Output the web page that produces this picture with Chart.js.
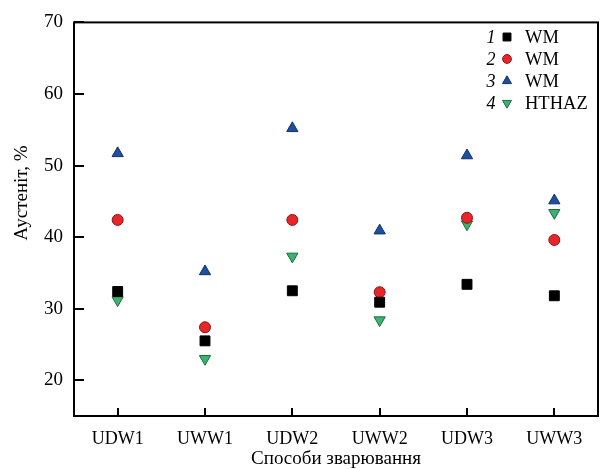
<!DOCTYPE html>
<html>
<head>
<meta charset="utf-8">
<script src="https://cdn.jsdelivr.net/npm/chart.js@4.4.1/dist/chart.umd.min.js"></script>
<style>
  html, body { margin: 0; padding: 0; background: #fff; }
  #wrap { width: 606px; height: 469px; }
</style>
</head>
<body>
<div id="wrap"><canvas id="austenite-chart" width="606" height="469"></canvas></div>
<script>
// Welding methods on the x axis
const categories = ['UDW1', 'UWW1', 'UDW2', 'UWW2', 'UDW3', 'UWW3'];

// Austenite content, %
const series1WM = [32.4, 25.5, 32.5, 30.9, 33.4, 31.8];
const series2WM = [42.4, 27.4, 42.4, 32.3, 42.7, 39.6];
const series3WM = [51.7, 35.2, 55.2, 40.9, 51.4, 45.1];
const series4HTHAZ = [31.2, 23.0, 37.3, 28.4, 41.8, 43.4];

const legendNumbers = ['1', '2', '3', '4'];
const legendLabels = ['WM', 'WM', 'WM', 'HTHAZ'];
const yTicks = [20, 30, 40, 50, 60, 70];
const yTitle = 'Аустеніт, %';

const SERIF = '"Liberation Serif", "Times New Roman", serif';

/**
 * Draws the boxed frame, the inward tick marks and the y title
 */
const frameTicks = {
  id: 'frameTicks',
  afterDatasetsDraw(chart) {
    const { ctx, chartArea: a, scales } = chart;
    ctx.save();
    ctx.strokeStyle = '#000';
    ctx.lineWidth = 2;
    ctx.strokeRect(a.left, a.top, a.right - a.left, a.bottom - a.top);
    ctx.beginPath();
    yTicks.forEach(v => {
      const y = Math.round(scales.y.getPixelForValue(v));
      ctx.moveTo(a.left, y);
      ctx.lineTo(a.left + 10, y);
    });
    categories.forEach((c, i) => {
      const x = Math.round(scales.x.getPixelForValue(i));
      ctx.moveTo(x, a.bottom);
      ctx.lineTo(x, a.bottom - 8);
    });
    ctx.stroke();

    // y title sits a bit above the middle of the axis in the original
    ctx.translate(22, 193);
    ctx.rotate(-Math.PI / 2);
    ctx.font = '19px ' + SERIF;
    ctx.fillStyle = '#000';
    ctx.textAlign = 'center';
    ctx.textBaseline = 'middle';
    ctx.fillText(yTitle, 0, 0);
    ctx.restore();
  }
};

/**
 * Numbered legend in the upper right corner
 */
const numberedLegend = {
  id: 'numberedLegend',
  afterDraw(chart) {
    const { ctx } = chart;
    const rowY = [37, 59, 81, 103];
    ctx.save();
    ctx.textBaseline = 'middle';
    chart.data.datasets.forEach((ds, i) => {
      const y = rowY[i];
      ctx.font = 'italic 18px ' + SERIF;
      ctx.fillStyle = '#000';
      ctx.textAlign = 'center';
      ctx.fillText(legendNumbers[i], 491, y + 1);

      ctx.fillStyle = ds.backgroundColor;
      ctx.strokeStyle = ds.borderColor;
      ctx.lineWidth = ds.borderWidth;
      Chart.helpers.drawPoint(ctx, {
        pointStyle: ds.pointStyle,
        radius: ds.pointRadius * 0.8,
        rotation: ds.rotation || 0,
        borderWidth: ds.borderWidth
      }, 507, y);

      ctx.font = '18.5px ' + SERIF;
      ctx.fillStyle = '#000';
      ctx.textAlign = 'left';
      ctx.fillText(legendLabels[i], 525, y + 1);
    });
    ctx.restore();
  }
};

const ctx = document.getElementById('austenite-chart').getContext('2d');

new Chart(ctx, {
  type: 'line',
  data: {
    labels: categories,
    datasets: [{
      label: 'WM',
      data: series1WM,
      pointStyle: 'rect',
      pointRadius: 7,
      backgroundColor: '#000000',
      borderColor: '#000000',
      borderWidth: 1
    }, {
      label: 'WM',
      data: series2WM,
      pointStyle: 'circle',
      pointRadius: 5.5,
      backgroundColor: '#e8262a',
      borderColor: '#8a1416',
      borderWidth: 1
    }, {
      label: 'WM',
      data: series3WM,
      pointStyle: 'triangle',
      pointRadius: 6.5,
      backgroundColor: '#1f50a0',
      borderColor: '#10306a',
      borderWidth: 1
    }, {
      label: 'HTHAZ',
      data: series4HTHAZ,
      pointStyle: 'triangle',
      rotation: 180,
      pointRadius: 6.5,
      backgroundColor: '#3cb36e',
      borderColor: '#1d6a3c',
      borderWidth: 1
    }].map(ds => Object.assign(ds, {
      showLine: false,
      pointRotation: ds.rotation || 0,
      pointBackgroundColor: ds.backgroundColor,
      pointBorderColor: ds.borderColor,
      pointBorderWidth: ds.borderWidth,
      pointHoverRadius: ds.pointRadius,
      clip: false
    }))
  },
  options: {
    responsive: false,
    animation: false,
    events: [],
    layout: { padding: { top: 18, right: 4, bottom: 0, left: 0 } },
    plugins: {
      legend: { display: false },
      tooltip: { enabled: false }
    },
    scales: {
      x: {
        type: 'category',
        offset: true,
        grid: { display: false, drawTicks: false },
        border: { display: false },
        ticks: {
          color: '#000',
          padding: 12,
          font: { family: SERIF, size: 18 },
          maxRotation: 0
        },
        title: {
          display: true,
          text: 'Способи зварювання',
          color: '#000',
          font: { family: SERIF, size: 19, lineHeight: 1 },
          padding: { top: 0, bottom: 0 }
        },
        afterFit: scale => { scale.height = 53; }
      },
      y: {
        min: 15,
        max: 70,
        grid: { display: false, drawTicks: false },
        border: { display: false },
        afterBuildTicks: scale => { scale.ticks = yTicks.map(v => ({ value: v })); },
        ticks: {
          color: '#000',
          padding: 11,
          font: { family: SERIF, size: 19 }
        },
        afterFit: scale => { scale.width = 74; }
      }
    }
  },
  plugins: [frameTicks, numberedLegend]
});
</script>
</body>
</html>
